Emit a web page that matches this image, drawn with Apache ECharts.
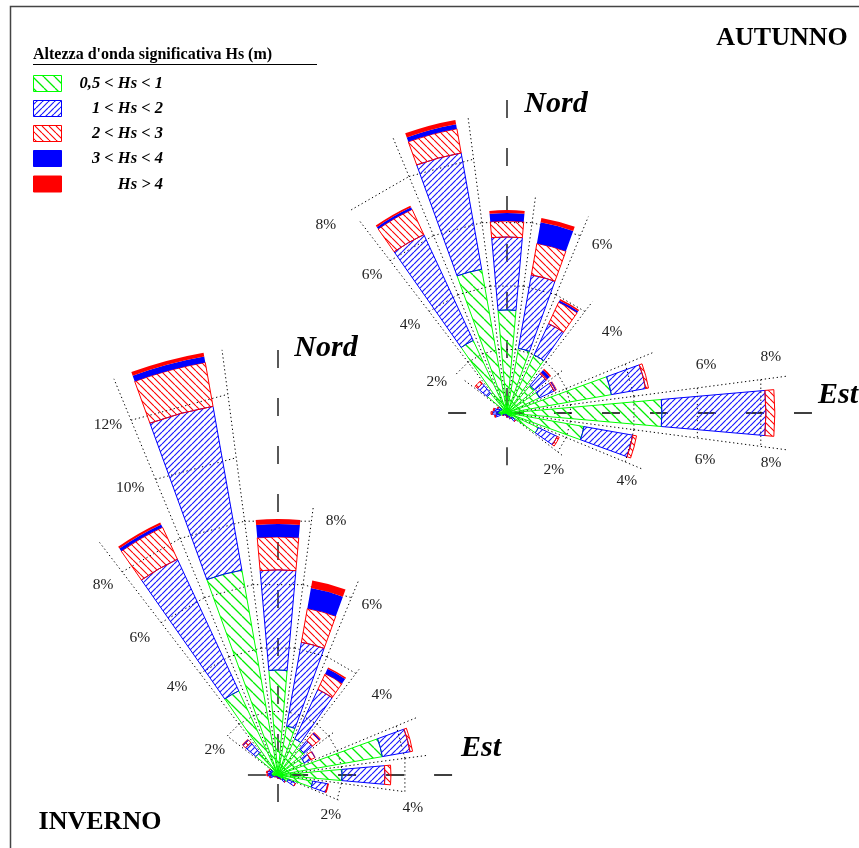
<!DOCTYPE html>
<html><head><meta charset="utf-8">
<script src="https://cdn.jsdelivr.net/npm/echarts@6/dist/echarts.min.js"></script>
<style>html,body{margin:0;padding:0;background:#fff}#c{width:859px;height:848px}</style>
</head><body><div id="c"></div>
<script>
// ---------------- DATA ----------------
// 24 direction sectors (compass degrees, clockwise from North), 15 deg each
const sectors = ['0','15','30','45','60','75','90','105','120','135','150','165','180','195','210','225','240','255','270','285','300','315','330','345'];
const classNames = ['0,5 < Hs < 1','1 < Hs < 2','2 < Hs < 3','3 < Hs < 4','Hs > 4'];

// INVERNO (winter) frequencies, %
const winterHs05_1 = [3.28,1.55,1.24,1.06,0.90,3.31,2.00,1.10,0.35,0.18,0.10,0.08,0.08,0.06,0.06,0.06,0.08,0.15,0.20,0.22,0.20,0.90,2.90,6.50];
const winterHs1_2  = [3.13,2.66,1.71,0.34,0.22,0.88,1.34,0.48,0.25,0.12,0.05,0.03,0.03,0.02,0.02,0.02,0.04,0.10,0.12,0.12,0.10,0.42,4.54,5.20];
const winterHs2_3  = [1.03,1.07,0.54,0.28,0.15,0.08,0.19,0.02,0,0,0,0,0,0,0,0,0,0.02,0.03,0.03,0.02,0.10,1.10,1.39];
const winterHs3_4  = [0.40,0.65,0.17,0.04,0.02,0,0,0,0,0,0,0,0,0,0,0,0,0,0,0,0,0.03,0.10,0.19];
const winterHs4    = [0.16,0.24,0.05,0.03,0.01,0,0,0,0,0,0,0,0,0,0,0,0,0,0,0,0,0.02,0.07,0.12];

// AUTUNNO (autumn) frequencies, %
const autumnHs05_1 = [3.22,2.05,2.00,1.12,1.12,3.31,4.84,2.44,1.08,0.20,0.12,0.08,0.08,0.06,0.06,0.06,0.10,0.22,0.28,0.25,0.20,0.80,2.50,4.56];
const autumnHs1_2  = [2.28,2.33,1.08,0.48,0.50,1.09,3.25,1.55,0.65,0.15,0.08,0.05,0.05,0.03,0.03,0.03,0.05,0.15,0.18,0.16,0.12,0.40,3.65,3.69];
const autumnHs2_3  = [0.50,1.00,0.74,0.05,0.05,0.09,0.28,0.12,0.07,0,0,0,0,0,0,0,0,0.03,0.04,0.03,0.02,0.10,0.87,0.77];
const autumnHs3_4  = [0.25,0.67,0.06,0.10,0.03,0,0,0,0,0,0,0,0,0,0,0,0,0,0,0,0,0,0.07,0.14];
const autumnHs4    = [0.09,0.14,0.05,0.05,0.02,0,0,0,0,0,0,0,0,0,0,0,0,0,0,0,0,0,0.06,0.14];

// ring tick labels (%)
const winterTickLevels = [12,10,8,6,4,2,8,6,4,2,4];
const autumnTickLevels = [8,6,4,2,6,4,6,8,6,8,4,2];

// ---------------- LAYOUT ----------------
const SCALE = 32; // px per %
const winterLayout = {center:[278,775], rMax:15,
  ticks:[[12.16,-25.9],[10.1,-27.2],[8.07,-42.6],[6.08,-45.2],[4.19,-48.9],[2.12,-68.4],[8.14,12.9],[6.07,28.9],[4.1,52.4],[2.07,127],[4.34,103.7]],
  arms:[[0,13.28],[90,5.44],[180,0.84],[270,0.94]]};
const autumnLayout = {center:[507,413], rMax:11,
  ticks:[[8.16,-43.9],[6.03,-44.4],[4.09,-47.8],[2.4,-66],[6.03,29.5],[4.14,52.4],[6.4,76.4],[8.43,78],[6.36,103.4],[8.4,100.7],[4.3,119.5],[2.3,140.5]],
  arms:[[0,9.78],[90,9.53],[180,1.63],[270,1.84]]};

const SERIF = '"Liberation Serif","Times New Roman",serif';

function hatch(color, d, dir, lw) {
  const c = document.createElement('canvas');
  c.width = d; c.height = d;
  const g = c.getContext('2d');
  g.strokeStyle = color; g.lineWidth = lw;
  g.beginPath();
  for (let k = -1; k <= 1; k++) {
    if (dir === '/') { g.moveTo(k*d, d); g.lineTo(k*d + d, 0); }
    else { g.moveTo(k*d, 0); g.lineTo(k*d + d, d); }
  }
  g.stroke();
  return c;
}
const classColors = ['#00ff00','#0000ff','#ff0000','#0000ff','#ff0000'];
const fills = [
  {image: hatch('#00ee00', 11, '\\', 1.3), repeat:'repeat'},
  {image: hatch('#1a1aff', 6, '/', 1.2), repeat:'repeat'},
  {image: hatch('#ff0000', 7, '\\', 1.1), repeat:'repeat'},
  '#0000ff', '#ff0000'
];

function barSeries(polarIndex, stack, arrays) {
  return arrays.map((arr, k) => ({
    type:'bar', name: classNames[k], coordinateSystem:'polar', polarIndex: polarIndex, stack: stack,
    data: arr, barCategoryGap:'33.3%', silent:true, animation:false, z:3,
    itemStyle:{color: fills[k], borderColor: classColors[k], borderWidth: k < 3 ? 1 : 0}
  }));
}

function gridSeries(polarIndex, arrays, layout, tickLevels) {
  const totals = sectors.map((s, i) => arrays.reduce((a, arr) => a + arr[i], 0));
  const maxTotal = Math.max.apply(null, totals);
  const cap = 2 * Math.floor(maxTotal / 2);
  return {
    type:'custom', coordinateSystem:'polar', polarIndex: polarIndex, silent:true, animation:false, z:1,
    data:[[0,0]],
    renderItem: function (params, api) {
      const ch = [];
      const dot = {stroke:'#000', lineWidth:1, lineDash:[1.3,2.7], fill:'none'};
      const spokes = {};
      sectors.forEach((s, i) => {
        const a = Number(s);
        const top = Math.min(2 * Math.round(totals[i] / 2), cap);
        if (top < 2) return;
        for (let L = 2; L <= top; L += 2) {
          ch.push({type:'polyline', shape:{points:[api.coord([L, a - 7.5]), api.coord([L, a + 7.5])]}, style: dot});
        }
        const e = Math.min(totals[i] + 0.45, maxTotal);
        [a - 7.5, a + 7.5].forEach(b => {
          const key = ((b % 360) + 360) % 360;
          spokes[key] = Math.max(spokes[key] || 0, e);
        });
      });
      Object.keys(spokes).forEach(k => {
        const b = Number(k);
        ch.push({type:'polyline', shape:{points:[api.coord([0, b]), api.coord([spokes[k], b])]}, style: dot});
      });
      layout.arms.forEach(arm => {
        ch.push({type:'polyline', shape:{points:[api.coord([arm[1], arm[0]]), api.coord([0, arm[0]])]},
          style:{stroke:'#000', lineWidth:1.3, lineDash:[18,30], fill:'none'}});
      });
      layout.ticks.forEach((t, j) => {
        const p = api.coord([t[0], (t[1] + 360) % 360]);
        ch.push({type:'text', style:{text: tickLevels[j] + '%', x:p[0], y:p[1], align:'center', verticalAlign:'middle',
          font:'15.5px ' + SERIF, fill:'#222'}});
      });
      return {type:'group', children: ch};
    }
  };
}

const winterArrays = [winterHs05_1, winterHs1_2, winterHs2_3, winterHs3_4, winterHs4];
const autumnArrays = [autumnHs05_1, autumnHs1_2, autumnHs2_3, autumnHs3_4, autumnHs4];

const hiddenAxis = {axisLine:{show:false}, axisTick:{show:false}, axisLabel:{show:false}, splitLine:{show:false}, splitArea:{show:false}};
function catAngle(pi){ return Object.assign({polarIndex:pi, type:'category', data:sectors, startAngle:97.5, clockwise:true}, hiddenAxis); }
function valAngle(pi){ return Object.assign({polarIndex:pi, type:'value', min:0, max:360, startAngle:90, clockwise:true}, hiddenAxis); }
function radAxis(pi, m){ return Object.assign({polarIndex:pi, type:'value', min:0, max:m}, hiddenAxis); }

const legendYs = [75.5, 100.5, 125.5, 150.5, 176];
const graphics = [
  {type:'rect', shape:{x:10.5, y:6.5, width:1000, height:1000}, style:{fill:'none', stroke:'#444', lineWidth:1.5}, z:0},
  {type:'text', style:{text:"Altezza d'onda significativa Hs (m)", x:33, y:55, align:'left', verticalAlign:'middle', font:'bold 16px ' + SERIF, fill:'#000'}},
  {type:'line', shape:{x1:33, y1:64.5, x2:317, y2:64.5}, style:{stroke:'#000', lineWidth:1}},
  {type:'text', style:{text:'AUTUNNO', x:782, y:38, align:'center', verticalAlign:'middle', font:'bold 26px ' + SERIF, fill:'#000'}},
  {type:'text', style:{text:'INVERNO', x:100, y:822, align:'center', verticalAlign:'middle', font:'bold 26px ' + SERIF, fill:'#000'}},
  {type:'text', style:{text:'Nord', x:556, y:104, align:'center', verticalAlign:'middle', font:'italic bold 30px ' + SERIF, fill:'#000'}},
  {type:'text', style:{text:'Est', x:838, y:395, align:'center', verticalAlign:'middle', font:'italic bold 30px ' + SERIF, fill:'#000'}},
  {type:'text', style:{text:'Nord', x:326, y:348, align:'center', verticalAlign:'middle', font:'italic bold 30px ' + SERIF, fill:'#000'}},
  {type:'text', style:{text:'Est', x:481, y:748, align:'center', verticalAlign:'middle', font:'italic bold 30px ' + SERIF, fill:'#000'}}
];
classNames.forEach((n, k) => {
  graphics.push({type:'rect', shape:{x:33.5, y:legendYs[k], width:28, height:16}, style:{fill: fills[k], stroke: classColors[k], lineWidth:1}});
  graphics.push({type:'text', style:{text:n, x:163, y:legendYs[k] + 8.5, align:'right', verticalAlign:'middle', font:'italic bold 16.5px ' + SERIF, fill:'#000'}});
});

const chart = echarts.init(document.getElementById('c'), null, {renderer:'canvas'});
chart.setOption({
  animation:false,
  backgroundColor:'#fff',
  polar:[
    {center: winterLayout.center, radius: SCALE * winterLayout.rMax},
    {center: autumnLayout.center, radius: SCALE * autumnLayout.rMax},
    {center: winterLayout.center, radius: SCALE * winterLayout.rMax},
    {center: autumnLayout.center, radius: SCALE * autumnLayout.rMax}
  ],
  angleAxis:[catAngle(0), catAngle(1), valAngle(2), valAngle(3)],
  radiusAxis:[radAxis(0, winterLayout.rMax), radAxis(1, autumnLayout.rMax), radAxis(2, winterLayout.rMax), radAxis(3, autumnLayout.rMax)],
  graphic: graphics,
  series: [].concat(
    [gridSeries(2, winterArrays, winterLayout, winterTickLevels), gridSeries(3, autumnArrays, autumnLayout, autumnTickLevels)],
    barSeries(0, 'w', winterArrays),
    barSeries(1, 'a', autumnArrays)
  )
});
</script></body></html>
